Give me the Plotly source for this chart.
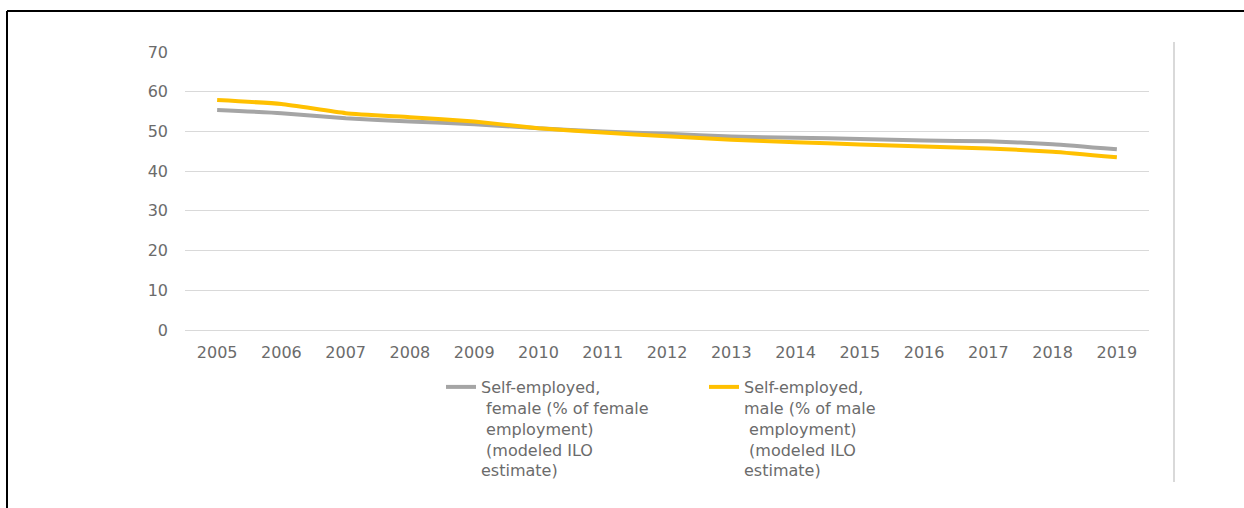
import plotly.graph_objects as go

# Self-employment shares by sex, 2005-2019 (% of employment, modeled ILO estimate)
years = [str(y) for y in range(2005, 2020)]
female = [55.4, 54.6, 53.3, 52.5, 51.8, 50.8, 50.0, 49.4, 48.7, 48.4, 48.1, 47.7, 47.5, 46.8, 45.5]
male = [57.9, 56.9, 54.6, 53.6, 52.5, 50.8, 49.7, 48.8, 47.9, 47.3, 46.7, 46.2, 45.7, 44.9, 43.5]
y_ticks = [0, 10, 20, 30, 40, 50, 60, 70]

female_name = ("Self-employed,<br>&nbsp;female (% of female<br>&nbsp;employment)"
               "<br>&nbsp;(modeled ILO<br>estimate)")
male_name = ("Self-employed,<br>male (% of male<br>&nbsp;employment)"
             "<br>&nbsp;(modeled ILO<br>estimate)")

FONT = "DejaVu Sans"
TEXT = "#6b6b6b"

# plot area in pixels (for placing the frame lines in paper units)
L, R, T, B = 185, 95, 52, 178
W, H = 1244, 508
PW, PH = W - L - R, H - T - B


def px_x(p):
    return (p - L) / PW


def px_y(p):
    return (H - B - p) / PH


fig = go.Figure()
fig.add_trace(go.Scatter(
    x=years, y=female, name=female_name, mode="lines",
    line=dict(color="#a5a5a5", width=4, shape="spline", smoothing=0.5),
))
fig.add_trace(go.Scatter(
    x=years, y=male, name=male_name, mode="lines",
    line=dict(color="#ffc000", width=4, shape="spline", smoothing=0.5),
))

fig.update_layout(
    width=W, height=H,
    margin=dict(l=L, r=R, t=T, b=B),
    paper_bgcolor="white", plot_bgcolor="white",
    font=dict(family=FONT, size=16, color=TEXT),
    showlegend=True,
    legend=dict(
        orientation="h", x=px_x(441), xanchor="left",
        y=px_y(370), yanchor="top",
        valign="top", entrywidth=218,
        font=dict(family=FONT, size=16, color=TEXT),
        bgcolor="rgba(0,0,0,0)", itemwidth=30,
    ),
    xaxis=dict(
        type="category", range=[-0.5, len(years) - 0.5],
        showgrid=False, zeroline=False, showline=False,
        ticks="", ticklabelstandoff=11,
        tickfont=dict(family=FONT, size=16, color=TEXT),
    ),
    yaxis=dict(
        range=[0, 70], tickvals=y_ticks, showgrid=True,
        gridcolor="#d9d9d9", gridwidth=1, zeroline=True,
        zerolinecolor="#d9d9d9", zerolinewidth=1, showline=False,
        ticks="", ticklabelstandoff=16,
        tickfont=dict(family=FONT, size=16, color=TEXT),
    ),
    shapes=[
        # outer frame: top and left edges
        dict(type="line", xref="paper", yref="paper",
             x0=px_x(7), x1=px_x(1250), y0=px_y(11), y1=px_y(11),
             line=dict(color="black", width=2)),
        dict(type="line", xref="paper", yref="paper",
             x0=px_x(7), x1=px_x(7), y0=px_y(11), y1=px_y(515),
             line=dict(color="black", width=2)),
        # thin divider on the right
        dict(type="line", xref="paper", yref="paper",
             x0=px_x(1174), x1=px_x(1174), y0=px_y(42), y1=px_y(482),
             line=dict(color="#d9d9d9", width=2)),
    ],
)

fig.write_html("out.html")
